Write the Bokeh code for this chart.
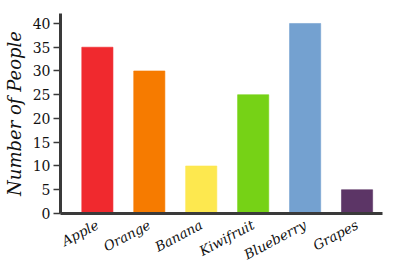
import math
from bokeh.plotting import figure
from bokeh.models import Range1d, FixedTicker
from bokeh.embed import file_html
from bokeh.resources import INLINE

fruits = ["Apple", "Orange", "Banana", "Kiwifruit", "Blueberry", "Grapes"]
people = [35, 30, 10, 25, 40, 5]
colors = ["#f0292e", "#f67b00", "#fde84f", "#76d216", "#74a1d0", "#5c3566"]
y_ticks = [0, 5, 10, 15, 20, 25, 30, 35, 40]

xs = list(range(len(fruits)))

p = figure(width=419, height=273, output_backend="svg", toolbar_location=None,
           x_range=Range1d(-0.71, 5.49), y_range=Range1d(0, 42.1),
           min_border_left=55, min_border_right=37, min_border_top=13, min_border_bottom=60)
p.outline_line_color = None
p.grid.visible = False
p.background_fill_color = "white"

p.vbar(x=xs, top=people, width=0.6, fill_color=colors, line_color=colors, line_alpha=0.6)

ax = p.xaxis[0]
ax.ticker = FixedTicker(ticks=xs)
ax.major_label_overrides = {i: f for i, f in zip(xs, fruits)}
ax.major_tick_line_color = None
ax.minor_tick_line_color = None
ax.axis_line_color = "#3a3a3a"
ax.axis_line_width = 3
ax.major_label_orientation = math.radians(28)
ax.major_label_text_font = "DejaVu Serif"
ax.major_label_text_font_style = "italic"
ax.major_label_text_font_size = "13.5px"
ax.major_label_text_color = "#111111"
ax.major_label_standoff = 4

ay = p.yaxis[0]
ay.ticker = FixedTicker(ticks=y_ticks)
ay.minor_tick_line_color = None
ay.axis_line_color = "#3a3a3a"
ay.axis_line_width = 3
ay.major_tick_line_color = "#3a3a3a"
ay.major_tick_line_width = 1.5
ay.major_tick_in = 0
ay.major_tick_out = 7
ay.major_label_standoff = 3
ay.major_label_text_font = "DejaVu Serif"
ay.major_label_text_font_size = "14px"
ay.major_label_text_color = "#111111"
ay.axis_label = "Number of People"
ay.axis_label_text_font = "DejaVu Serif"
ay.axis_label_text_font_style = "italic"
ay.axis_label_text_font_size = "18px"
ay.axis_label_text_color = "#111111"
ay.axis_label_standoff = 5

open("out.html", "w").write(file_html(p, INLINE))
